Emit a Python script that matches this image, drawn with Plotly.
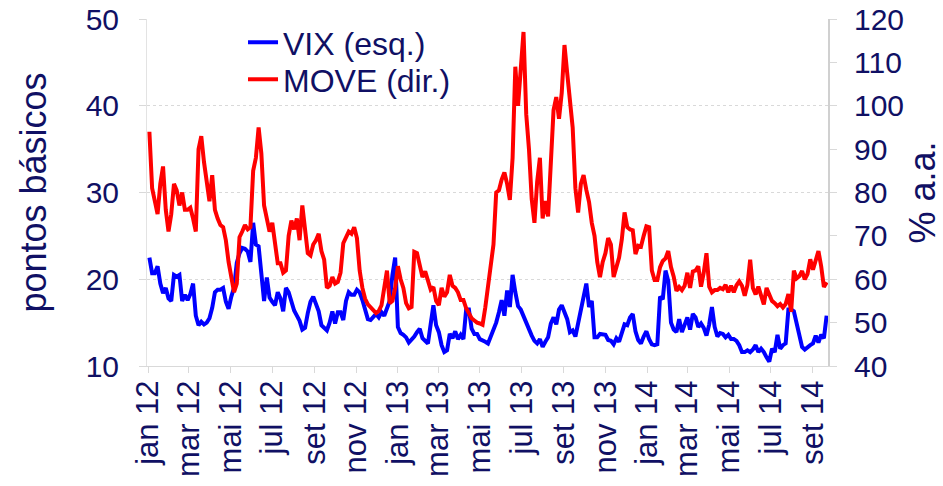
import pandas as pd
import plotly.graph_objects as go

# x grid (every 4 days, Jan 2012 - Sep 2014)
dates = pd.date_range("2012-01-03", periods=249, freq="4D")

vix = [
    22.5, 20.7, 20.7, 21.5, 19.5, 18.4, 19, 17.8, 17.5, 20.5,
    20.3, 20.5, 17.5, 18.2, 17.6, 18.3, 19.5, 15.8, 14.7, 15.1,
    14.8, 15, 15.5, 16.7, 18.5, 18.8, 18.8, 19, 17.4, 16.6,
    18, 19, 21.9, 23, 23.6, 23.5, 23.2, 22, 26.5, 24,
    23.8, 21, 17.5, 20.2, 17.9, 17.4, 17, 18.5, 17.8, 16.3,
    19, 18.5, 17.5, 16.4, 15.8, 15.2, 14.2, 14.4, 16.1, 17.4,
    18, 17, 16.3, 14.7, 14.4, 14.1, 15, 16.3, 14.9, 16.2,
    16.2, 15.3, 17.5, 18.5, 18.2, 18.2, 18.8, 18.5, 17.6, 16.5,
    15.4, 15.3, 15.6, 16, 15.6, 16.2, 15.8, 16.7, 17.5, 20.5,
    22.5, 14.5, 13.8, 13.6, 13.3, 12.7, 13, 13.4, 13.9, 14.3,
    13.2, 12.9, 12.6, 14.8, 17, 14.7, 13.9, 12.4, 11.6, 11.8,
    13.7, 13.2, 14, 13.1, 13.6, 13.1, 16.5, 16.5, 14.3, 13.7,
    13.7, 13.1, 13, 12.8, 12.6, 13.4, 14.2, 15, 16.2, 17.6,
    15.8, 18.7, 16.8, 20.5, 18.5, 16.9, 16.5, 15.7, 14.9, 14.2,
    13.5, 12.9, 12.6, 13.1, 12.2, 12.8, 13.3, 14.9, 15.6, 14.8,
    16.5, 17, 16.3, 15.4, 13.9, 14.1, 13.4, 14.9, 16.6, 17.6,
    19.5, 16.8, 17.5, 13.3, 13.3, 13.7, 13.7, 13.6, 13, 12.9,
    12.5, 13.2, 12.8, 13.8, 14.8, 14.7, 15.6, 16, 14, 13,
    12.6, 13.4, 14, 13.1, 12.5, 12.4, 12.5, 18, 17.7, 21,
    19.8, 15, 14.2, 13.9, 15.4, 13.9, 14.8, 15.6, 14.2, 16,
    15.6, 14.5, 14.9, 14.4, 13.5, 14.8, 16.8, 14.5, 13.4, 13.8,
    13.7, 13.3, 13.6, 13.1, 13.1, 12.9, 12.4, 11.6, 11.6, 11.8,
    11.6, 11.9, 12.4, 11.6, 12, 11.6, 11, 10.5, 12, 11.6,
    13.6, 12, 12.4, 12.6, 16.5, 16.5, 16.3, 15, 13.3, 12.2,
    11.9, 12.2, 12.4, 12.6, 13.5, 12.7, 13.6, 13.2, 15.8,
]

move = [
    94, 81, 78, 75, 82, 86, 76, 71, 75, 82,
    80.5, 77, 80, 76, 76, 76.5, 74, 71, 90, 93,
    87, 82, 78, 84, 76, 74, 72.5, 72, 69, 64,
    61, 57, 59, 69.7, 71, 72.5, 71.5, 72, 85, 88,
    95, 89, 77, 73.6, 71, 73, 68, 63.7, 63.7, 61.5,
    62, 70, 73.5, 71.5, 74, 69, 77, 72, 66, 65.5,
    68, 69, 70.5, 66.5, 64.5, 58, 58.5, 60.5, 59, 59.4,
    61.5, 68.3, 69.5, 71, 70.5, 72, 69.5, 62, 58, 55.5,
    54.2, 53.5, 53, 52.2, 52.7, 54, 58, 62, 54.5, 55,
    58, 63, 60, 58, 54.5, 53.3, 53.6, 66.3, 66, 63,
    60.5, 61.8, 59.5, 57.6, 58.2, 55, 54, 58, 56, 57,
    61, 58.5, 58, 57, 55.2, 55.2, 53.3, 52, 51, 50.5,
    50, 49.8, 49.5, 53.5, 59, 64, 68, 80, 80.5, 83,
    84.6, 82, 78.3, 88, 109, 100, 110, 117, 98, 90,
    78.5, 73, 82.5, 88, 74, 78, 74.5, 88, 99, 102,
    97, 103, 114, 107.5, 100, 95, 81, 75.4, 82, 84,
    80.6, 77.8, 73, 70, 64, 60.5, 64, 66, 69.5, 68,
    60.5, 63, 65, 69.2, 75.4, 72, 71.5, 71.3, 65.8, 67.7,
    67.5, 70, 72.2, 72, 62, 59.8, 59.8, 62.8, 64.2, 64.8,
    66.5, 62.8, 60.6, 57.3, 58.2, 57.5, 58.5, 61.5, 58, 61.8,
    62, 63, 58.3, 61.5, 66, 58.3, 57, 57.5, 57.5, 58,
    57.7, 58.7, 57, 58.5, 57, 58.6, 59.5, 58.5, 56.2, 58.7,
    64.5, 58, 56.5, 58.3, 56.5, 54.2, 58, 56.7, 55, 54.5,
    53.8, 54.3, 53.5, 54.3, 56.6, 52.5, 62, 60.2, 60.7, 61.9,
    60, 61.2, 64.6, 62.2, 64.4, 66.5, 63, 58.2, 59.3,
]

tick_dates = ["2012-01-01", "2012-03-01", "2012-05-01", "2012-07-01", "2012-09-01",
              "2012-11-01", "2013-01-01", "2013-03-01", "2013-05-01", "2013-07-01",
              "2013-09-01", "2013-11-01", "2014-01-01", "2014-03-01", "2014-05-01",
              "2014-07-01", "2014-09-01"]
tick_labels = ["jan 12", "mar 12", "mai 12", "jul 12", "set 12", "nov 12",
               "jan 13", "mar 13", "mai 13", "jul 13", "set 13", "nov 13",
               "jan 14", "mar 14", "mai 14", "jul 14", "set 14"]

TXT = "#101064"
GRID = "#d9d9d9"
FONT = "Liberation Sans, Arial, sans-serif"

fig = go.Figure()
fig.add_trace(go.Scatter(x=dates, y=vix, name="VIX (esq.)", mode="lines",
                         line=dict(color="#0000ff", width=4), yaxis="y",
                         legend="legend"))
fig.add_trace(go.Scatter(x=dates, y=move, name="MOVE (dir.)", mode="lines",
                         line=dict(color="#ff0000", width=4), yaxis="y2",
                         legend="legend2"))

leg_common = dict(xanchor="left", yanchor="top", bgcolor="rgba(0,0,0,0)",
                  font=dict(size=32, color=TXT, family=FONT), itemwidth=30)

fig.update_layout(
    width=943, height=486,
    margin=dict(l=147, r=115, t=19, b=120, autoexpand=False),
    paper_bgcolor="white", plot_bgcolor="white",
    font=dict(family=FONT, color=TXT, size=30),
    showlegend=True,
    legend=dict(x=0.141, y=1.012, **leg_common),
    legend2=dict(x=0.141, y=0.905, **leg_common),
    xaxis=dict(type="date", range=["2011-12-30 12:00", "2014-09-23"],
               tickvals=tick_dates, ticktext=tick_labels, tickangle=-90,
               tickfont=dict(size=31, color=TXT),
               ticks="outside", ticklen=6, tickcolor=GRID,
               ticklabelstandoff=-5, ticklabeloverflow="allow",
               showgrid=False, showline=True, linecolor=GRID, linewidth=1,
               zeroline=False, automargin=False),
    yaxis=dict(range=[10, 50], dtick=10, tickfont=dict(size=30, color=TXT),
               ticks="outside", ticklen=7, tickcolor=GRID,
               ticklabelstandoff=14, ticklabeloverflow="allow",
               showgrid=True, gridcolor=GRID, griddash="dot", gridwidth=1,
               showline=True, linecolor="#e3e3e3", linewidth=1, zeroline=False,
               automargin=False,
               title=dict(text="pontos básicos", font=dict(size=36, color=TXT),
                          standoff=28)),
    yaxis2=dict(range=[40, 120], dtick=10, overlaying="y", side="right",
                tickfont=dict(size=30, color=TXT),
                ticks="outside", ticklen=7, tickcolor=GRID,
                ticklabelstandoff=11, ticklabeloverflow="allow",
                showgrid=False, showline=True, linecolor="#d0d0d0", linewidth=2,
                zeroline=False, automargin=False,
                title=dict(text="% a.a.", font=dict(size=36, color=TXT),
                           standoff=12)),
)

fig.write_html("out.html",
               config={"displayModeBar": False},
               post_script="document.body.style.margin='0';"
                           "document.body.style.overflow='hidden';")
